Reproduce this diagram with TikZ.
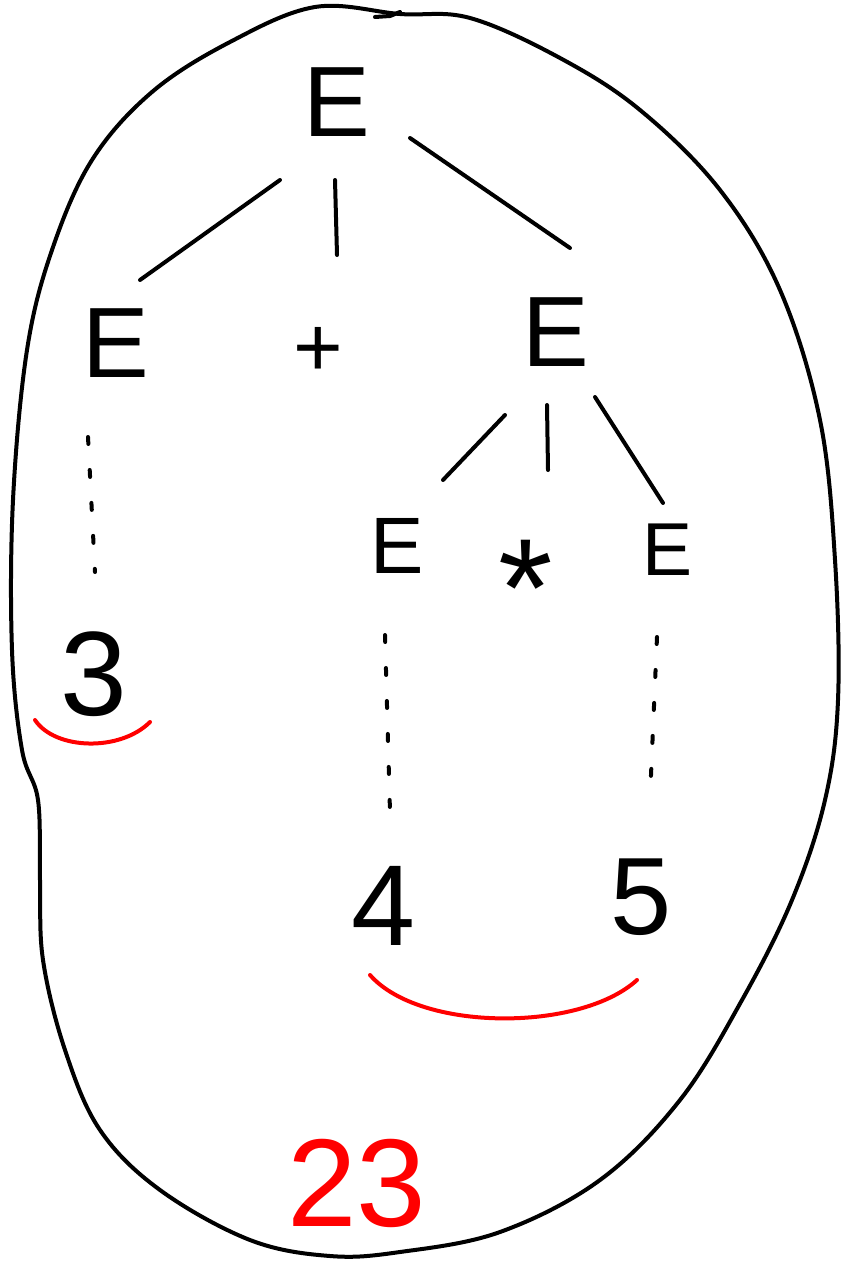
\documentclass[tikz,border=0pt]{standalone}
\usepackage{fontspec}
\setmainfont{Liberation Sans}
\begin{document}
\begin{tikzpicture}[x=1pt,y=-1pt, line width=4pt, line cap=round, line join=round,
  lbl/.style={inner sep=0pt, font=\fontsize{#1}{#1}\selectfont},
  dotline/.style={dash pattern=on 7pt off 26pt},
  redarc/.style={red, line width=4pt}]
\useasboundingbox (0,0) rectangle (840,1268);
% labels
\node[lbl=100] (root) at (337,102) {E};
\node[lbl=100] (eL) at (116,343) {E};
\node[lbl=85] (plus) at (318,352) {+};
\node[lbl=100] (eR) at (556,332) {E};
\node[lbl=80] (eLL) at (397,546) {E};
\node[lbl=140, anchor=north] (star) at (526,538) {*};
\node[lbl=75] (eLR) at (668,550) {E};
\node[lbl=120] (three) at (94,674) {3};
\node[lbl=115] (four) at (383,906) {4};
\node[lbl=110] (five) at (641,897) {5};
\node[lbl=125, text=red] (res) at (357,1183) {23};
% tree edges
\draw ([shift={(-57,78)}]root.center) -- ([shift={(24,-63)}]eL.center);
\draw ([shift={(-2,78)}]root.center) -- ([shift={(19,-97)}]plus.center);
\draw ([shift={(73,36)}]root.center) -- ([shift={(14,-84)}]eR.center);
\draw ([shift={(-51,83)}]eR.center) -- ([shift={(46,-66)}]eLL.center);
\draw ([shift={(-9,73)}]eR.center) -- ([shift={(22,-68)}]star.north);
\draw ([shift={(39,65)}]eR.center) -- ([shift={(-5,-47)}]eLR.center);
% dotted derivations
\draw[dotline] ([shift={(-28,94)}]eL.center) -- ([shift={(1,-102)}]three.center);
\draw[dotline] ([shift={(-12,89)}]eLL.center) -- ([shift={(7,-94)}]four.center);
\draw[dotline] ([shift={(-11,87)}]eLR.center) -- ([shift={(9,-99)}]five.center);
% red arcs
\draw[redarc] (35,720) .. controls (55,750) and (120,752) .. (150,722);
\draw[redarc] (370,975) .. controls (420,1032) and (580,1032) .. (637,980);
% enclosing blob
\draw plot[smooth cycle, tension=0.6] coordinates {
  (315,7) (400,14) (470,18) (560,58) (640,110) (720,190) (780,290)
  (820,420) (835,560) (838,700) (825,800) (792,900) (742,1000) (680,1100)
  (600,1180) (500,1232) (400,1252) (330,1256) (250,1240) (160,1190)
  (100,1130) (65,1050) (43,960) (40,880) (38,800) (22,750) (12,650)
  (13,500) (27,350) (52,250) (92,160) (152,92) (230,42) };
\draw (375,17) -- (390,16) -- (400,12);
\end{tikzpicture}
\end{document}
